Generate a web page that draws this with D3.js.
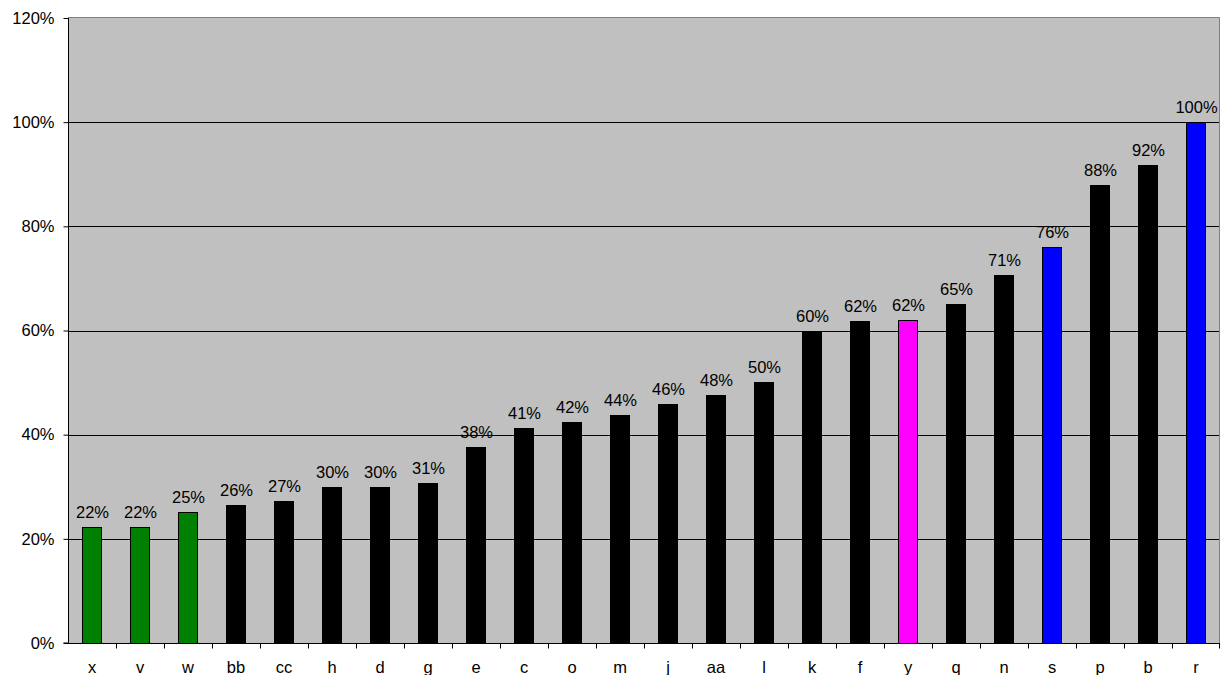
<!DOCTYPE html>
<html>
<head>
<meta charset="utf-8">
<script src="https://cdn.jsdelivr.net/npm/d3@7"></script>
<style>
  html, body { margin: 0; padding: 0; background: #fff; }
  svg { display: block; font-family: "Liberation Sans", Arial, sans-serif; }
</style>
</head>
<body>
<svg id="chart" width="1223" height="675"></svg>
<script>
// Categories in display order and their shares (percent)
const categories = ["x","v","w","bb","cc","h","d","g","e","c","o","m","j","aa","l","k","f","y","q","n","s","p","b","r"];
const values = [22.3,22.3,25.1,26.5,27.3,30.0,30.0,30.8,37.6,41.3,42.4,43.8,45.8,47.6,50.1,60.0,61.9,62.0,65.0,70.6,76.1,88.0,91.8,100.0];
const labels = ["22%","22%","25%","26%","27%","30%","30%","31%","38%","41%","42%","44%","46%","48%","50%","60%","62%","62%","65%","71%","76%","88%","92%","100%"];
const groups = ["g","g","g","k","k","k","k","k","k","k","k","k","k","k","k","k","k","m","k","k","b","k","k","b"];
const yTicks = [0,20,40,60,80,100,120];

const groupColor = { g: "#008000", k: "#000000", m: "#FF00FF", b: "#0000FF" };
const fontSize = 16.5;

const svg = d3.select("#chart");
const plotLeft = 68, plotRight = 1220, plotTop = 18, plotBottom = 643;

const x = d3.scaleBand().domain(categories).range([plotLeft, plotRight]).paddingInner(0.6).paddingOuter(0.3);
const xBand = d3.scaleBand().domain(categories).range([plotLeft, plotRight]);
const y = d3.scaleLinear().domain([0, 120]).range([plotBottom, plotTop]);

// plot background
svg.append("rect")
  .attr("x", plotLeft).attr("y", plotTop)
  .attr("width", plotRight - plotLeft).attr("height", plotBottom - plotTop)
  .attr("fill", "#C0C0C0");

// gridlines
svg.append("g")
  .selectAll("line")
  .data(yTicks.filter(t => t > 0 && t < 120))
  .join("line")
  .attr("x1", plotLeft).attr("x2", plotRight)
  .attr("y1", d => Math.round(y(d)) + 0.5).attr("y2", d => Math.round(y(d)) + 0.5)
  .attr("stroke", "#000").attr("stroke-width", 1);

// top and right frame
svg.append("path")
  .attr("d", `M${plotLeft},${plotTop - 0.5}H${plotRight - 0.5}V${plotBottom}`)
  .attr("fill", "none").attr("stroke", "#808080").attr("stroke-width", 1);

// bars
const data = categories.map((c, i) => ({ c, v: values[i], label: labels[i], g: groups[i] }));
svg.append("g")
  .selectAll("rect")
  .data(data)
  .join("rect")
  .attr("x", d => Math.round(x(d.c)) + 0.5)
  .attr("y", d => Math.round(y(d.v)) + 0.5)
  .attr("width", Math.round(x.bandwidth()))
  .attr("height", d => plotBottom - Math.round(y(d.v)))
  .attr("fill", d => groupColor[d.g])
  .attr("stroke", "#000").attr("stroke-width", 1);

// value labels
svg.append("g")
  .selectAll("text")
  .data(data)
  .join("text")
  .attr("x", d => x(d.c) + x.bandwidth() / 2 + 0.5)
  .attr("y", d => y(d.v) - 9)
  .attr("text-anchor", "middle")
  .attr("font-size", fontSize)
  .attr("fill", "#000")
  .text(d => d.label);

// y axis
const yAxis = d3.axisLeft(y).tickValues(yTicks).tickFormat(d => d + "%").tickSize(5).tickPadding(9);
const gy = svg.append("g").attr("transform", `translate(${plotLeft + 0.5},0)`).call(yAxis);
gy.select(".domain").attr("stroke", "#000").attr("d", `M-5,${plotBottom}H0V${plotTop}`);
gy.selectAll(".tick line").attr("stroke", "#000");
gy.selectAll(".tick text").attr("font-size", fontSize).attr("font-family", "Liberation Sans, Arial, sans-serif").attr("fill", "#000");

// x axis: ticks on band boundaries, labels centred in bands
const gx = svg.append("g").attr("transform", `translate(0,${plotBottom + 0.5})`);
gx.append("line").attr("x1", plotLeft).attr("x2", plotRight).attr("stroke", "#000");
gx.selectAll("line.tk")
  .data(categories.slice(1).concat(["__end"]))
  .join("line")
  .attr("class", "tk")
  .attr("x1", d => d === "__end" ? plotRight - 0.5 : Math.round(xBand(d)) + 0.5)
  .attr("x2", d => d === "__end" ? plotRight - 0.5 : Math.round(xBand(d)) + 0.5)
  .attr("y1", 0).attr("y2", 5)
  .attr("stroke", "#000");
gx.selectAll("text")
  .data(categories)
  .join("text")
  .attr("x", d => xBand(d) + xBand.bandwidth() / 2)
  .attr("y", 29.5)
  .attr("text-anchor", "middle")
  .attr("font-size", fontSize)
  .attr("fill", "#000")
  .text(d => d);
</script>
</body>
</html>
